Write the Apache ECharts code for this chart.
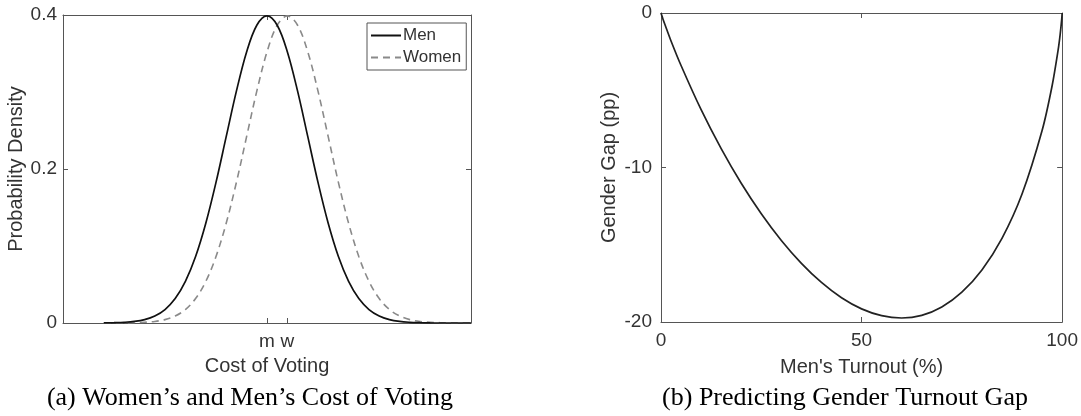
<!DOCTYPE html>
<html>
<head>
<meta charset="utf-8">
<title>Cost of Voting and Gender Turnout Gap</title>
<script src="https://cdn.jsdelivr.net/npm/echarts@6/dist/echarts.min.js"></script>
<style>
  html, body { margin: 0; padding: 0; background: #fff; }
  #chart { width: 1081px; height: 416px; }
</style>
</head>
<body>
<div id="chart"></div>
<script>
// Panel (a): cost of voting (standardised units) and density of each group
const costX = [-4, -3.75, -3.5, -3.25, -3, -2.75, -2.5, -2.25, -2, -1.75, -1.5, -1.25, -1, -0.75, -0.5, -0.25,
  0, 0.25, 0.5, 0.75, 1, 1.25, 1.5, 1.75, 2, 2.25, 2.5, 2.75, 3, 3.25, 3.5, 3.75, 4, 4.25, 4.5, 4.75, 5];
const menDensity = [0.0001, 0.0004, 0.0009, 0.0020, 0.0044, 0.0091, 0.0175, 0.0317, 0.0540, 0.0863, 0.1295, 0.1826,
  0.2420, 0.3011, 0.3521, 0.3867, 0.3989, 0.3867, 0.3521, 0.3011, 0.2420, 0.1826, 0.1295, 0.0863, 0.0540, 0.0317,
  0.0175, 0.0091, 0.0044, 0.0020, 0.0009, 0.0004, 0.0001, 0.0000, 0.0000, 0.0000, 0.0000];
const womenDensity = [0.0000, 0.0000, 0.0001, 0.0004, 0.0009, 0.0020, 0.0044, 0.0091, 0.0175, 0.0317, 0.0540, 0.0863,
  0.1295, 0.1826, 0.2420, 0.3011, 0.3521, 0.3867, 0.3989, 0.3867, 0.3521, 0.3011, 0.2420, 0.1826, 0.1295, 0.0863,
  0.0540, 0.0317, 0.0175, 0.0091, 0.0044, 0.0020, 0.0009, 0.0004, 0.0001, 0.0000, 0.0000];
const costTicks = [0, 0.5];
const costTickLabels = ['m', 'w'];

// Panel (b): men's turnout (%) and the resulting gender gap (pp)
const turnout = [0, 0.1, 0.5, 1, 2.5, 5, 10, 15, 20, 25, 30, 35, 40, 45, 50, 55, 60, 65, 70, 75, 80, 85, 90, 95,
  97.5, 99, 99.5, 99.9, 100];
const genderGap = [0, -0.08, -0.40, -0.76, -1.81, -3.40, -6.26, -8.78, -11.02, -12.99, -14.72, -16.20, -17.44,
  -18.43, -19.15, -19.59, -19.74, -19.57, -19.03, -18.07, -16.63, -14.59, -11.72, -7.61, -4.71, -2.39, -1.40,
  -0.38, 0];

const pairs = (xs, ys) => xs.map((x, i) => [x, ys[i]]);

const SANS = 'Liberation Sans, Arial, Helvetica, sans-serif';
const SERIF = 'Liberation Serif, Times New Roman, serif';
const AXIS_COLOR = '#555555';
const TEXT_COLOR = '#333333';
const TICK_FONT = 19;
const TITLE_FONT = 20;

function boxAxis(base) {
  return Object.assign({
    axisLine: { show: true, onZero: false, lineStyle: { color: AXIS_COLOR, width: 1 } },
    axisTick: { show: true, inside: true, length: 5, lineStyle: { color: AXIS_COLOR } },
    splitLine: { show: false },
    axisLabel: { show: false },
    nameTextStyle: { color: TEXT_COLOR, fontFamily: SANS, fontSize: TITLE_FONT }
  }, base);
}

function labelStyle(extra) {
  return Object.assign({ show: true, color: TEXT_COLOR, fontFamily: SANS, fontSize: TICK_FONT }, extra);
}

const chart = echarts.init(document.getElementById('chart'), null, { renderer: 'canvas' });

const option = {
  backgroundColor: '#ffffff',
  animation: false,
  grid: [
    { left: 63, top: 15, right: 610, bottom: 93, containLabel: false },
    { left: 661, top: 13, right: 17, bottom: 94, containLabel: false }
  ],
  legend: {
    data: ['Men', 'Women'],
    orient: 'vertical',
    left: 367,
    top: 23,
    itemWidth: 30,
    itemHeight: 10,
    itemGap: 5,
    padding: [4, 5, 4, 3],
    backgroundColor: '#ffffff',
    borderColor: AXIS_COLOR,
    borderWidth: 1,
    borderRadius: 0,
    itemStyle: { opacity: 0 },
    textStyle: { color: TEXT_COLOR, fontFamily: SANS, fontSize: 17, padding: [0, 0, 0, -3] }
  },
  xAxis: [
    boxAxis({
      gridIndex: 0, type: 'value', position: 'bottom', min: -5, max: 5,
      name: 'Cost of Voting', nameLocation: 'middle', nameGap: 33,
      axisTick: { show: true, inside: true, length: 5, customValues: costTicks, lineStyle: { color: AXIS_COLOR } },
      axisLabel: labelStyle({
        customValues: costTicks, margin: 9,
        formatter: v => costTickLabels[costTicks.indexOf(v)]
      })
    }),
    boxAxis({
      gridIndex: 0, type: 'value', position: 'top', min: -5, max: 5,
      axisTick: { show: true, inside: true, length: 5, customValues: costTicks, lineStyle: { color: AXIS_COLOR } }
    }),
    boxAxis({
      gridIndex: 1, type: 'value', position: 'bottom', min: 0, max: 100, interval: 50,
      name: "Men's Turnout (%)", nameLocation: 'middle', nameGap: 35,
      axisLabel: labelStyle({ margin: 9 })
    }),
    boxAxis({
      gridIndex: 1, type: 'value', position: 'top', min: 0, max: 100, interval: 50
    })
  ],
  yAxis: [
    boxAxis({
      gridIndex: 0, type: 'value', position: 'left', min: 0, max: 0.4, interval: 0.2,
      name: 'Probability Density', nameLocation: 'middle', nameGap: 36,
      axisLabel: labelStyle({ margin: 6, formatter: v => String(+v.toFixed(1)) })
    }),
    boxAxis({
      gridIndex: 0, type: 'value', position: 'right', min: 0, max: 0.4, interval: 0.2
    }),
    boxAxis({
      gridIndex: 1, type: 'value', position: 'left', min: -20, max: 0, interval: 10,
      name: 'Gender Gap (pp)', nameLocation: 'middle', nameGap: 42,
      axisLabel: labelStyle({ margin: 9 })
    }),
    boxAxis({
      gridIndex: 1, type: 'value', position: 'right', min: -20, max: 0, interval: 10
    })
  ],
  series: [
    {
      name: 'Men', type: 'line', xAxisIndex: 0, yAxisIndex: 0,
      data: pairs(costX, menDensity), smooth: 0.35, showSymbol: false, symbol: 'none',
      lineStyle: { color: '#111111', width: 1.7 }, itemStyle: { color: '#111111' }, z: 3
    },
    {
      name: 'Women', type: 'line', xAxisIndex: 0, yAxisIndex: 0,
      data: pairs(costX, womenDensity), smooth: 0.35, showSymbol: false, symbol: 'none',
      lineStyle: { color: '#8a8a8a', width: 1.6, type: [7, 5] }, itemStyle: { color: '#8a8a8a' }, z: 2
    },
    {
      name: 'Gap', type: 'line', xAxisIndex: 2, yAxisIndex: 2,
      data: pairs(turnout, genderGap), smooth: 0.3, showSymbol: false, symbol: 'none',
      lineStyle: { color: '#222222', width: 1.7 }
    }
  ],
  graphic: [
    {
      type: 'text',
      style: {
        text: '(a) Women\u2019s and Men\u2019s Cost of Voting',
        x: 250, y: 398, align: 'center', verticalAlign: 'middle',
        font: '26px ' + SERIF, fill: '#000000'
      }
    },
    {
      type: 'text',
      style: {
        text: '(b) Predicting Gender Turnout Gap',
        x: 845, y: 398, align: 'center', verticalAlign: 'middle',
        font: '26px ' + SERIF, fill: '#000000'
      }
    }
  ]
};

chart.setOption(option);
</script>
</body>
</html>
